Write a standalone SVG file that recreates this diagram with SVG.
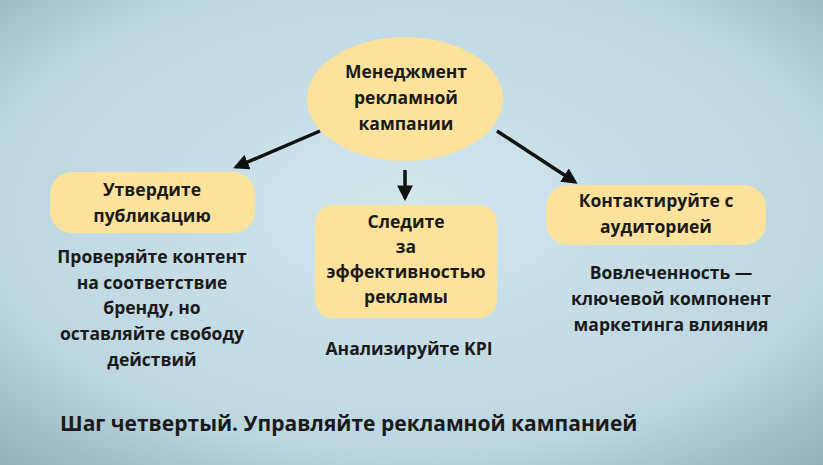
<svg xmlns="http://www.w3.org/2000/svg" width="823" height="465" viewBox="0 0 823 465">
<defs>
<radialGradient id="bg" cx="50%" cy="45%" r="75%">
<stop offset="0" stop-color="#d3e6ee"/><stop offset="0.7" stop-color="#bcd6e0"/><stop offset="1" stop-color="#93aeb6"/>
</radialGradient>
<marker id="ah" viewBox="0 0 10 10" refX="8" refY="5" markerWidth="4.5" markerHeight="4.5" orient="auto"><path d="M0,0 L10,5 L0,10 z" fill="#111"/></marker>
</defs>
<style>
.n{fill:#fde29c}
.t{font-family:"Open Sans","Liberation Sans",sans-serif;font-weight:bold;font-size:17.5px;fill:#1a1a1a;text-anchor:middle}
.c{stroke:#111;stroke-width:3.5;fill:none;marker-end:url(#ah)}
</style>
<rect width="823" height="465" fill="url(#bg)"/>
<g id="connectors">
<line class="c" x1="320" y1="131" x2="236" y2="167"/>
<line class="c" x1="405" y1="170" x2="405" y2="198"/>
<line class="c" x1="497" y1="131" x2="575" y2="182"/>
</g>
<g id="center"><ellipse class="n" cx="405" cy="99" rx="98" ry="62"/>
<text class="t" x="406" y="78">Менеджмент</text><text class="t" x="406" y="104">рекламной</text><text class="t" x="406" y="130">кампании</text></g>
<g id="left"><rect class="n" x="50" y="172" width="205" height="61" rx="22"/>
<text class="t" x="152" y="196">Утвердите</text><text class="t" x="152" y="222">публикацию</text></g>
<g id="middle"><rect class="n" x="315" y="205" width="182" height="113" rx="18"/>
<text class="t" x="406" y="228">Следите</text><text class="t" x="406" y="253">за</text><text class="t" x="406" y="278">эффективностью</text><text class="t" x="406" y="303">рекламы</text></g>
<g id="right"><rect class="n" x="546" y="185" width="220" height="60" rx="22"/>
<text class="t" x="656" y="207">Контактируйте с</text><text class="t" x="656" y="233">аудиторией</text></g>
<g id="notes">
<text class="t" x="152" y="263">Проверяйте контент</text><text class="t" x="152" y="289">на соответствие</text><text class="t" x="152" y="314">бренду, но</text><text class="t" x="152" y="340">оставляйте свободу</text><text class="t" x="152" y="366">действий</text>
<text class="t" x="409" y="355">Анализируйте KPI</text>
<text class="t" x="671" y="279">Вовлеченность —</text><text class="t" x="671" y="305">ключевой компонент</text><text class="t" x="671" y="331">маркетинга влияния</text>
<text class="t" x="60" y="431" style="text-anchor:start;font-size:21px">Шаг четвертый. Управляйте рекламной кампанией</text>
</g>
</svg>
